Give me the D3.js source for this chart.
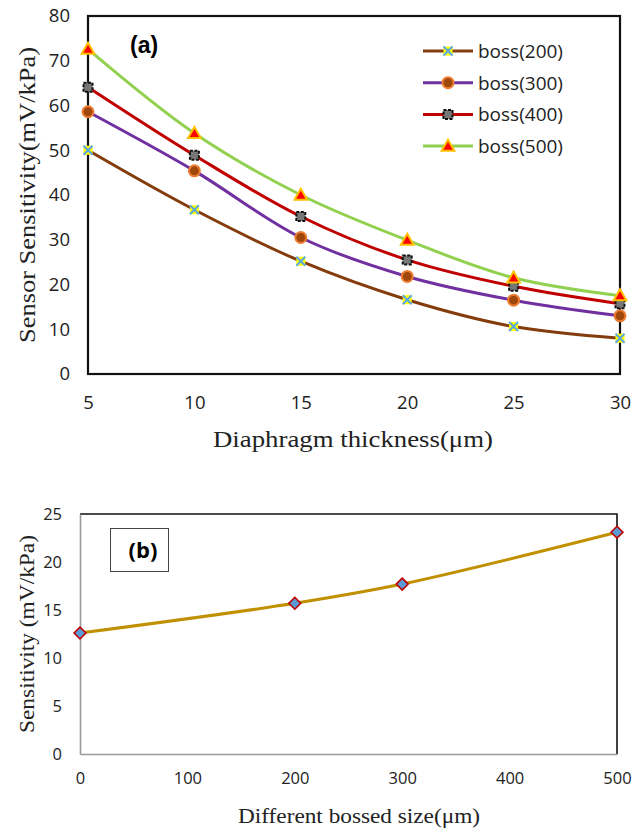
<!DOCTYPE html>
<html>
<head>
<meta charset="utf-8">
<script src="https://cdn.jsdelivr.net/npm/d3@7"></script>
<style>
  body { margin: 0; background: #fff; }
  svg { display: block; }
  .tick text { font-family: "Open Sans", "Liberation Sans", sans-serif; fill: #222; }
  .ttl { font-family: "Liberation Serif", "DejaVu Serif", serif; fill: #222; }
</style>
</head>
<body>
<svg id="chart" width="644" height="829"></svg>
<script>
// ---- data, chart (a)
const thickness = [5, 10, 15, 20, 25, 30];
const boss200 = [50.0, 36.7, 25.2, 16.6, 10.6, 8.0];
const boss300 = [58.6, 45.4, 30.5, 21.8, 16.5, 13.0];
const boss400 = [64.1, 48.9, 35.2, 25.5, 19.6, 15.7];
const boss500 = [72.6, 53.8, 40.0, 29.9, 21.5, 17.5];
const seriesNames = ['boss(200)', 'boss(300)', 'boss(400)', 'boss(500)'];
const yTicksA = [0, 10, 20, 30, 40, 50, 60, 70, 80];

// ---- data, chart (b)
const bossSize = [0, 200, 300, 500];
const sensitivity = [12.6, 15.7, 17.7, 23.1];
const xTicksB = [0, 100, 200, 300, 400, 500];
const yTicksB = [0, 5, 10, 15, 20, 25];

const svg = d3.select('#chart');

// ================= Chart (a) =================
const A = { left: 88, right: 620, top: 16, bottom: 374 };
const xA = d3.scaleLinear().domain([5, 30]).range([A.left, A.right]);
const yA = d3.scaleLinear().domain([0, 80]).range([A.bottom, A.top]);

const styles = [
  { color: '#843C0C', marker: 'x' },
  { color: '#7030A0', marker: 'circle' },
  { color: '#C00000', marker: 'square' },
  { color: '#92D050', marker: 'triangle' }
];
const allSeries = [boss200, boss300, boss400, boss500];

// frame
svg.append('rect')
  .attr('x', A.left).attr('y', A.top)
  .attr('width', A.right - A.left).attr('height', A.bottom - A.top)
  .attr('fill', 'none').attr('stroke', '#111').attr('stroke-width', 2.2);

// axes (labels only)
const yAxisA = svg.append('g')
  .attr('transform', `translate(${A.left},0)`)
  .call(d3.axisLeft(yA).tickValues(yTicksA).tickSize(0).tickPadding(18));
yAxisA.select('.domain').remove();
yAxisA.selectAll('text').style('font-size', '18.5px');

const xAxisA = svg.append('g')
  .attr('transform', `translate(0,${A.bottom})`)
  .call(d3.axisBottom(xA).tickValues(thickness).tickSize(0).tickPadding(22));
xAxisA.select('.domain').remove();
xAxisA.selectAll('text').style('font-size', '18.5px');

// titles
svg.append('text').attr('class', 'ttl')
  .attr('x', 353).attr('y', 447)
  .attr('text-anchor', 'middle').style('font-size', '24px')
  .attr('textLength', 280).attr('lengthAdjust', 'spacingAndGlyphs')
  .text('Diaphragm thickness(μm)');
svg.append('text').attr('class', 'ttl')
  .attr('transform', `translate(35,195) rotate(-90)`)
  .attr('text-anchor', 'middle').style('font-size', '24px')
  .attr('textLength', 296).attr('lengthAdjust', 'spacingAndGlyphs')
  .text('Sensor Sensitivity(mV/kPa)');

svg.append('text')
  .attr('x', 130).attr('y', 53)
  .style('font-family', '"Liberation Sans", Arial, sans-serif')
  .style('font-weight', 'bold').style('font-size', '23px')
  .text('(a)');

function drawMarker(g, type, x, y) {
  if (type === 'x') {
    g.append('rect').attr('x', x - 4.5).attr('y', y - 4.5).attr('width', 9).attr('height', 9)
      .attr('fill', '#FFFF00');
    g.append('path')
      .attr('d', `M${x - 4.5},${y - 4.5}L${x + 4.5},${y + 4.5}M${x - 4.5},${y + 4.5}L${x + 4.5},${y - 4.5}`)
      .attr('stroke', '#5BA8E0').attr('stroke-width', 2);
  } else if (type === 'circle') {
    g.append('circle').attr('cx', x).attr('cy', y).attr('r', 5.5)
      .attr('fill', '#A0480C').attr('stroke', '#ED7D31').attr('stroke-width', 2);
  } else if (type === 'square') {
    g.append('rect').attr('x', x - 4.5).attr('y', y - 4.5).attr('width', 9).attr('height', 9)
      .attr('fill', '#777').attr('stroke', '#111').attr('stroke-width', 2)
      .attr('stroke-dasharray', '3,1.5');
  } else {
    const s = d3.symbol(d3.symbolTriangle, 70)();
    g.append('path').attr('d', s).attr('transform', `translate(${x},${y + 1})`)
      .attr('fill', '#FF0000').attr('stroke', '#FFC000').attr('stroke-width', 2);
  }
}

const lineA = d3.line()
  .x(d => xA(d[0]))
  .y(d => yA(d[1]))
  .curve(d3.curveCatmullRom.alpha(0.5));

allSeries.forEach((vals, i) => {
  const pts = thickness.map((t, j) => [t, vals[j]]);
  svg.append('path').datum(pts)
    .attr('d', lineA)
    .attr('fill', 'none')
    .attr('stroke', styles[i].color)
    .attr('stroke-width', 3);
});
allSeries.forEach((vals, i) => {
  const g = svg.append('g');
  thickness.forEach((t, j) => drawMarker(g, styles[i].marker, xA(t), yA(vals[j])));
});

// legend
const legend = svg.append('g');
seriesNames.forEach((name, i) => {
  const y = 51 + i * 31.7;
  legend.append('line').attr('x1', 423).attr('x2', 473).attr('y1', y).attr('y2', y)
    .attr('stroke', styles[i].color).attr('stroke-width', 3);
  drawMarker(legend, styles[i].marker, 448, y);
  legend.append('text').attr('x', 478).attr('y', y + 7)
    .style('font-family', '"Open Sans", "Liberation Sans", sans-serif')
    .style('font-size', '19px').attr('fill', '#222')
    .text(name);
});

// ================= Chart (b) =================
const B = { left: 80, right: 617, top: 514, bottom: 754 };
const xB = d3.scaleLinear().domain([0, 500]).range([B.left, B.right]);
const yB = d3.scaleLinear().domain([0, 25]).range([B.bottom, B.top]);

// top & right border black
svg.append('path')
  .attr('d', `M${B.left},${B.top}H${B.right}V${B.bottom}`)
  .attr('fill', 'none').attr('stroke', '#111').attr('stroke-width', 1.6);

const yAxisB = svg.append('g')
  .attr('transform', `translate(${B.left},0)`)
  .call(d3.axisLeft(yB).tickValues(yTicksB).tickSize(0).tickPadding(18));
yAxisB.select('.domain').attr('stroke', '#999').attr('stroke-width', 1.6);
yAxisB.selectAll('text').style('font-size', '16.5px');

const xAxisB = svg.append('g')
  .attr('transform', `translate(0,${B.bottom})`)
  .call(d3.axisBottom(xB).tickValues(xTicksB).tickSize(0).tickPadding(18));
xAxisB.select('.domain').attr('stroke', '#999').attr('stroke-width', 1.6);
xAxisB.selectAll('text').style('font-size', '16.5px');

svg.append('text').attr('class', 'ttl')
  .attr('x', 359).attr('y', 823)
  .attr('text-anchor', 'middle').style('font-size', '22px')
  .attr('textLength', 242).attr('lengthAdjust', 'spacingAndGlyphs')
  .text('Different bossed size(μm)');
svg.append('text').attr('class', 'ttl')
  .attr('transform', `translate(34,634) rotate(-90)`)
  .attr('text-anchor', 'middle').style('font-size', '21px')
  .attr('textLength', 198).attr('lengthAdjust', 'spacingAndGlyphs')
  .text('Sensitivity (mV/kPa)');

// (b) label box
svg.append('rect').attr('x', 110.5).attr('y', 528.5).attr('width', 58).attr('height', 43)
  .attr('fill', '#fff').attr('stroke', '#444').attr('stroke-width', 1);
svg.append('text')
  .attr('x', 143).attr('y', 558).attr('text-anchor', 'middle')
  .style('font-family', '"Open Sans", "Liberation Sans", sans-serif')
  .style('font-weight', 'bold').style('font-size', '22px')
  .text('(b)');

const ptsB = bossSize.map((b, i) => [b, sensitivity[i]]);
svg.append('path').datum(ptsB)
  .attr('d', d3.line().x(d => xB(d[0])).y(d => yB(d[1])).curve(d3.curveCatmullRom.alpha(0.5)))
  .attr('fill', 'none').attr('stroke', '#C09000').attr('stroke-width', 3);

svg.append('g').selectAll('path').data(ptsB).enter().append('path')
  .attr('d', d3.symbol(d3.symbolDiamond2, 90)())
  .attr('transform', d => `translate(${xB(d[0])},${yB(d[1])})`)
  .attr('fill', '#5B9BD5').attr('stroke', '#C00000').attr('stroke-width', 1.6);
</script>
</body>
</html>
